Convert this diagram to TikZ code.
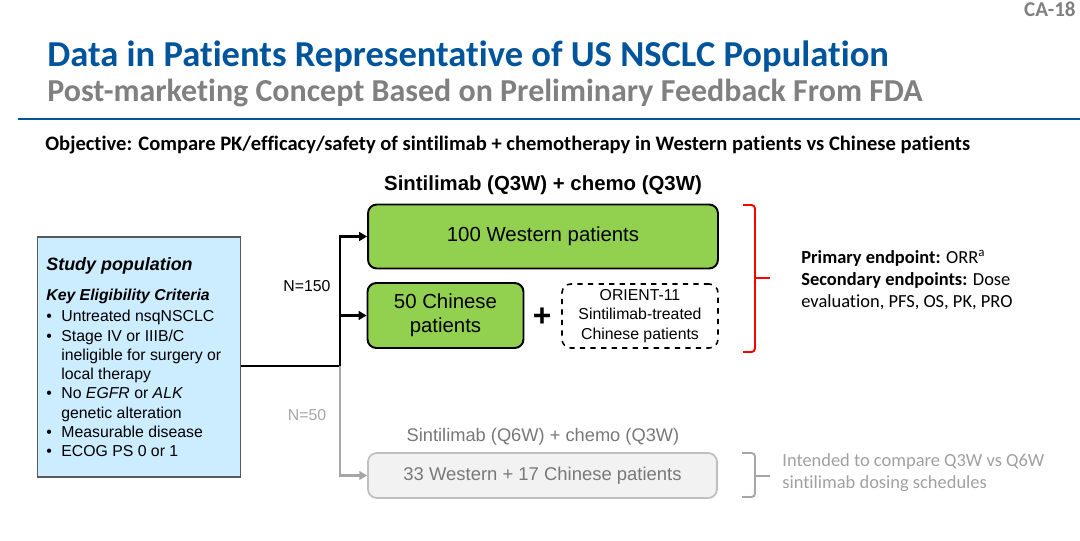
\documentclass[tikz,border=0pt]{standalone}
\usepackage{fontspec}
\setmainfont{Liberation Sans}
\newfontfamily\calibri[Ligatures=NoCommon]{Carlito}
\usetikzlibrary{arrows.meta,positioning}
\definecolor{titleblue}{RGB}{0,84,155}
\definecolor{subgrey}{RGB}{128,128,128}
\definecolor{popblue}{RGB}{204,236,255}
\definecolor{popframe}{RGB}{89,89,89}
\definecolor{armgreen}{RGB}{146,208,80}
\definecolor{boxgrey}{RGB}{242,242,242}
\definecolor{framegrey}{RGB}{191,191,191}
\definecolor{linegrey}{RGB}{166,166,166}
\definecolor{textgrey}{RGB}{120,120,120}
\definecolor{notegrey}{RGB}{160,160,160}
\tikzset{%
  armbox/.style   = {draw=black, line width=1.1pt, rounded corners=5pt, fill=armgreen,
    align=center, inner sep=0pt, font=\fontsize{11.6pt}{13.8pt}\selectfont},
  extbox/.style   = {draw=black, line width=0.9pt, dashed, rounded corners=5pt, fill=white,
    align=center, inner sep=0pt, font=\fontsize{9pt}{11pt}\selectfont},
  greybox/.style  = {draw=framegrey, line width=1pt, rounded corners=5pt, fill=boxgrey,
    text=textgrey, inner sep=0pt, font=\fontsize{10.5pt}{12pt}\selectfont},
  popbox/.style   = {draw=popframe, line width=1.1pt, fill=popblue, inner sep=0pt},
  flow/.style     = {line width=1.7pt, -{Triangle[length=4.5pt,width=5pt]}},
  greyflow/.style = {line width=1.3pt, draw=linegrey, -{Triangle[length=4.5pt,width=5pt]}},
  brace/.style    = {line width=1.1pt, rounded corners=2pt},
  endtext/.style  = {anchor=west, align=left, inner sep=0pt, font=\calibri\fontsize{10.5pt}{12.6pt}\selectfont}
}
\begin{document}
\begin{tikzpicture}[x=0.02cm, y=-0.02cm]
    \useasboundingbox (0,0) rectangle (1080,541);

    %header
    \node[anchor=east, inner sep=0pt, text=subgrey, font=\calibri\bfseries\fontsize{12pt}{12pt}\selectfont] (slide) at (1076,9) {CA-18};
    \node[anchor=base west, inner sep=0pt, text=titleblue, font=\calibri\bfseries\fontsize{20.8pt}{20.8pt}\selectfont] (title) at (47,67) {Data in Patients Representative of US NSCLC Population};
    \node[anchor=base west, inner sep=0pt, text=subgrey, font=\calibri\bfseries\fontsize{18.2pt}{18.2pt}\selectfont] (subtitle) at (47,101) {Post-marketing Concept Based on Preliminary Feedback From FDA};
    \draw[titleblue, line width=1.6pt] (18,119) -- (1080,119);
    \node[anchor=west, inner sep=0pt, font=\calibri\bfseries\fontsize{11.7pt}{11.7pt}\selectfont] (objective) at (45,145) {Objective: Compare PK/efficacy/safety of sintilimab + chemotherapy in Western patients vs Chinese patients};

    %study population
    \node[popbox, minimum width=4.06cm, minimum height=4.8cm] (pop) at (139,357) {};
    \node[anchor=west, inner sep=0pt, font=\bfseries\itshape\fontsize{10.2pt}{12pt}\selectfont] (pophead) at (46,266) {Study population};
    \node[anchor=west, inner sep=0pt, font=\bfseries\itshape\fontsize{9pt}{11pt}\selectfont] (crithead) at (46,296) {Key Eligibility Criteria};
    \node[anchor=north west, inner sep=0pt, font=\fontsize{9pt}{10.95pt}\selectfont] (criteria) at (46,308) {%
      \begin{tabular}{@{}p{0.3cm}@{}l@{}}
        \textbullet & Untreated nsqNSCLC\\
        \textbullet & Stage IV or IIIB/C\\
                    & ineligible for surgery or\\
                    & local therapy\\
        \textbullet & No \textit{EGFR} or \textit{ALK}\\
                    & genetic alteration\\
        \textbullet & Measurable disease\\
        \textbullet & ECOG PS 0 or 1
      \end{tabular}};

    %Q3W arm
    \node[font=\bfseries\fontsize{11.6pt}{13pt}\selectfont, inner sep=0pt] (q3w) at (543,185) {Sintilimab (Q3W) + chemo (Q3W)};
    \node[armbox, minimum width=7cm, minimum height=1.28cm] (west) at (543,236.5) {100 Western patients};
    \node[armbox, minimum width=3.12cm, minimum height=1.3cm] (china) at (445.5,315.5) {50 Chinese\\patients};
    \node[font=\bfseries\fontsize{18pt}{18pt}\selectfont, inner sep=0pt] (plus) at (542,317) {+};
    \node[extbox, minimum width=3.12cm, minimum height=1.28cm] (orient) at (640,316) {ORIENT-11\\Sintilimab-treated\\Chinese patients};

    %Q6W arm
    \node[text=textgrey, font=\fontsize{10.4pt}{12pt}\selectfont, inner sep=0pt] (q6w) at (543,437) {Sintilimab (Q6W) + chemo (Q3W)};
    \node[greybox, minimum width=6.98cm, minimum height=0.9cm] (mixed) at (542.5,475.5) {33 Western + 17 Chinese patients};

    %randomisation lines
    \coordinate (split) at (340,366);
    \draw[line width=1.7pt] (pop.east |- split) -- (split);
    \draw[flow] (split) |- (west.west);
    \draw[flow] (split |- china.west) -- (china.west);
    \draw[greyflow] (split) |- (mixed.west);
    \node[font=\fontsize{9pt}{11pt}\selectfont, inner sep=0pt] (n150) at (307,286) {N=150};
    \node[text=linegrey, font=\fontsize{9pt}{11pt}\selectfont, inner sep=0pt] (n50) at (307,415) {N=50};

    %endpoints
    \draw[brace, red] (743,205) -- (755,205) -- (755,352) -- (743,352);
    \draw[brace, red] (755,278) -- (770,278);
    \node[endtext] (ends) at (801,280) {\textbf{Primary endpoint:} ORR\textsuperscript{a}\\\textbf{Secondary endpoints:} Dose\\evaluation, PFS, OS, PK, PRO};
    \draw[brace, linegrey] (742,453) -- (755,453) -- (755,497) -- (742,497);
    \draw[brace, linegrey] (755,476) -- (770,476);
    \node[endtext, text=notegrey] (intent) at (782,472.5) {Intended to compare Q3W vs Q6W\\sintilimab dosing schedules};
\end{tikzpicture}
\end{document}
